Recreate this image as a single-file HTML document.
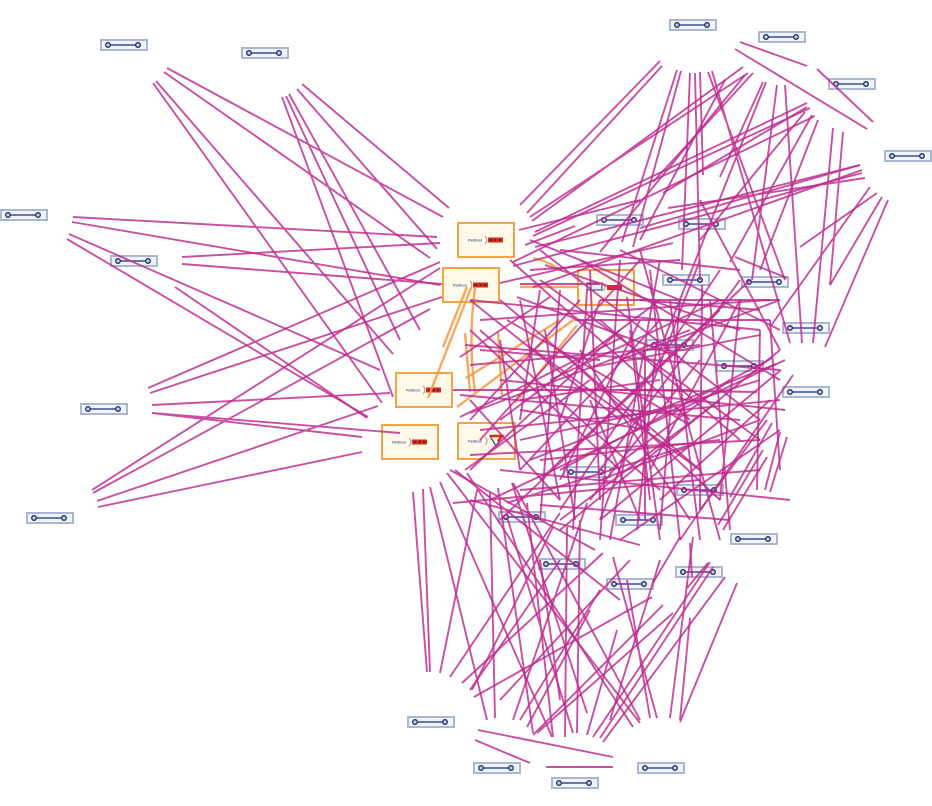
<!DOCTYPE html>
<html><head><meta charset="utf-8"><style>
html,body{margin:0;padding:0;background:#fff;}
svg{display:block;}
</style></head><body>
<svg width="932" height="806" viewBox="0 0 932 806" xmlns="http://www.w3.org/2000/svg">
<defs>
<g id="pn">
<rect x="0" y="0" width="46" height="10" fill="#f1f4fb" stroke="#a9b7d0" stroke-width="2"/>
<line x1="7" y1="5" x2="37" y2="5" stroke="#3c4c8c" stroke-width="1.4"/>
<circle cx="7" cy="5" r="2.3" fill="#c8d0e8" stroke="#1e2a5a" stroke-width="1.3"/>
<circle cx="37" cy="5" r="2.3" fill="#c8d0e8" stroke="#1e2a5a" stroke-width="1.3"/>
</g>
<g id="ob">
<rect x="0" y="0" width="56" height="34" fill="#fff9ea" stroke="#f0a445" stroke-width="2"/>
<text x="10" y="18.5" font-family="Liberation Sans, sans-serif" font-size="4" fill="#2a3670">RelBool</text>
<path d="M27 13 Q31 17 27 21" fill="none" stroke="#8a8a8a" stroke-width="0.8"/>
<rect x="30" y="14.5" width="15" height="5" fill="#d42a1a"/>
<circle cx="33" cy="17" r="0.9" fill="#3a1a2a"/><circle cx="37.5" cy="17" r="0.9" fill="#3a1a2a"/><circle cx="42" cy="17" r="0.9" fill="#3a1a2a"/>
</g>
</defs>

<use href="#pn" x="101" y="40"/>
<use href="#pn" x="242" y="48"/>
<use href="#pn" x="1" y="210"/>
<use href="#pn" x="111" y="256"/>
<use href="#pn" x="81" y="404"/>
<use href="#pn" x="27" y="513"/>
<use href="#pn" x="670" y="20"/>
<use href="#pn" x="759" y="32"/>
<use href="#pn" x="829" y="79"/>
<use href="#pn" x="885" y="151"/>
<use href="#pn" x="597" y="215"/>
<use href="#pn" x="679" y="219"/>
<use href="#pn" x="663" y="275"/>
<use href="#pn" x="742" y="277"/>
<use href="#pn" x="783" y="323"/>
<use href="#pn" x="783" y="387"/>
<use href="#pn" x="647" y="340"/>
<use href="#pn" x="717" y="361"/>
<use href="#pn" x="677" y="485"/>
<use href="#pn" x="731" y="534"/>
<use href="#pn" x="676" y="567"/>
<use href="#pn" x="564" y="467"/>
<use href="#pn" x="616" y="515"/>
<use href="#pn" x="499" y="512"/>
<use href="#pn" x="539" y="559"/>
<use href="#pn" x="607" y="579"/>
<use href="#pn" x="408" y="717"/>
<use href="#pn" x="474" y="763"/>
<use href="#pn" x="552" y="778"/>
<use href="#pn" x="638" y="763"/>

<use href="#ob" x="458" y="223"/>
<use href="#ob" x="443" y="268"/>
<use href="#ob" x="396" y="373"/>
<use href="#ob" x="382" y="425"/>
<rect x="578" y="270" width="56" height="35" fill="#fff9ea" stroke="#f0a445" stroke-width="2"/>
<rect x="587" y="283" width="15" height="7" fill="#e8ecf6" stroke="#2a3670" stroke-width="1"/>
<path d="M603 283 Q607 287 603 291" fill="none" stroke="#8a8a8a" stroke-width="0.8"/>
<rect x="607" y="285" width="15" height="5" fill="#d42a1a"/>
<rect x="458" y="423" width="57" height="36" fill="#fff9ea" stroke="#f0a445" stroke-width="2"/>
<text x="468" y="442.5" font-family="Liberation Sans, sans-serif" font-size="4" fill="#2a3670">RelBool</text>
<path d="M485 437 Q489 441 485 445" fill="none" stroke="#8a8a8a" stroke-width="0.8"/>
<path d="M490 436 L502 436 L496 446 Z" fill="none" stroke="#2a3670" stroke-width="1.2"/>
<path d="M490 436 L502 436 L498 441" fill="none" stroke="#d42a1a" stroke-width="2.5"/>

<g stroke="#f79a45" stroke-width="2.4" stroke-opacity="0.85" fill="none">
<path d="M467 287L443 347M471 288L428 398M475 288Q468 340 475 392M465 333L470 392M498 332L502 395"/>
<path d="M533 258Q550 262 560 270M520 287L578 287M457 407L577 317M515 403L577 325M466 378L560 320"/>
</g>

<g stroke="#bd2a8c" stroke-width="1.9" stroke-opacity="0.82" fill="none">
<path d="M167 68L443 217M164 72L430 258M302 84L449 208M297 89L437 249M282 97L393 397M286 96L400 340M289 94L420 330"/>
<path d="M153 83L382 403M156 81L393 354M73 217L437 237M72 222L440 285M69 234L380 370M67 239L368 417"/>
<path d="M182 257L440 243M182 264L442 284M175 287L367 418M148 388L440 262M150 393L442 297M152 405L390 393"/>
<path d="M152 413L362 437M152 413L400 433M92 490L440 268M93 493L430 309M97 501L378 406M98 507L362 452"/>

<path d="M520 205L660 61M527 213L662 66M532 221L743 67M530 217L748 73M535 232L807 103M533 236L810 108"/>
<path d="M513 262L815 116M677 70L622 242M681 71L633 247M690 73L682 270M695 73L700 280M700 72L703 175"/>
<path d="M708 72L785 280M712 71L790 343M763 82L720 177M766 82L660 350M777 85L752 280M785 85L802 343"/>
<path d="M833 128L813 343M843 132L830 285M860 165L640 228M862 170L533 287M865 178L668 208M870 187L770 327"/>
<path d="M877 193L800 247M882 197L830 285M888 200L825 347M740 42L807 66M735 49L867 129M817 69L873 122"/>
<path d="M753 73L653 182M663 193L807 107M535 247L860 165M513 266L862 173M500 283L673 243M735 257L787 278"/>
<path d="M725 80L640 240M745 75L600 252M805 112L700 240M812 115L730 262M818 120L760 270M780 350L700 200"/>
<path d="M519 230L640 200M525 245L575 226"/>

<path d="M470 300L760 330M480 320L770 300M465 345L780 370M470 365L700 345"/>
<path d="M500 380L785 410M460 395L740 420M480 430L780 400M470 455L760 440"/>
<path d="M500 470L790 500M520 490L760 470M540 505L730 520M560 250L740 270"/>
<path d="M530 270L680 260M600 300L780 300M520 410L650 430M480 350L600 360"/>
<path d="M560 290L540 520M590 270L600 500M620 260L600 540M650 270L680 540"/>
<path d="M680 300L660 530M710 300L730 530M740 300L720 500M520 300L560 500"/>
<path d="M500 340L520 470M770 320L780 470M630 330L650 500M545 330L575 520"/>
<path d="M470 330L620 470M500 300L700 470M540 280L760 440M580 260L780 380"/>
<path d="M470 400L560 500M620 250L780 330M510 260L690 420M560 350L720 500"/>
<path d="M470 470L620 330M500 520L720 310M560 530L780 350M620 540L780 430"/>
<path d="M470 420L580 300M600 470L740 280M660 500L770 400M520 470L660 320"/>
<path d="M517 297L680 357M460 357L550 297M507 320L690 425M453 390L690 390"/>
<path d="M470 413L690 330M460 417L623 337M507 503L690 445M453 503L700 480"/>
<path d="M530 347L700 470M627 297L660 540M657 340L637 530M587 290L573 530"/>
<path d="M593 367L760 335M540 250L760 420M545 265L740 330M520 284L600 284"/>
<path d="M470 300L620 420M480 330L660 490M640 250L720 540M660 260L610 540"/>
<path d="M700 260L600 520M720 270L560 510M750 280L540 480M785 360L490 500"/>
<path d="M550 380L720 300M580 350L690 520M600 320L740 440M620 360L780 300"/>
<path d="M640 320L560 480M660 380L520 400M700 360L590 500M610 470L730 380"/>
<path d="M630 420L760 380M590 400L640 520M520 440L700 400M500 420L660 300"/>
<path d="M540 460L720 440M600 300L560 420M480 440L640 260M530 240L680 300"/>
<path d="M575 320L770 320M670 300L700 540M740 300L650 470M720 400L560 520"/>
<path d="M645 350L645 520M600 480L760 420M702 285L700 510M760 330L757 490"/>
<path d="M620 390L757 392M640 300L760 310M465 470L590 380M540 290L520 420"/>

<path d="M772 358L560 470M776 364L530 460M781 370L600 520M793 375L680 540"/>
<path d="M787 437L770 492M780 432L765 490M772 423L730 497M767 420L700 510"/>
<path d="M723 530L767 457M718 525L763 450M680 537L653 583M690 543L692 577M687 588L708 563"/>

<path d="M413 492L427 672M423 489L430 672M430 487L487 720M440 482L552 737M447 473L640 723"/>
<path d="M450 470L595 550M477 490L440 673M490 492L495 718M498 488L533 733M512 483L587 713"/>
<path d="M513 483L640 720M507 517L573 733M527 503L553 737M553 527L472 690M560 513L450 677"/>
<path d="M567 527L565 737M580 520L577 733M587 503L513 720M603 553L462 683M652 597L474 697"/>
<path d="M663 605L533 735M673 613L537 733M690 618L680 720M693 537L670 718M737 583L680 722"/>
<path d="M725 577L603 742M713 567L600 738M710 562L593 737M617 630L587 735M590 610L527 727"/>
<path d="M627 580L650 718M613 557L657 718M478 730L613 757M475 740L530 763M546 767L613 767"/>
<path d="M467 473L633 727M455 470L620 600M470 500L640 545M560 560L470 690M630 560L500 700"/>
<path d="M540 560L560 700M600 590L520 720M660 560L610 720"/>
</g>
</svg>
</body></html>
